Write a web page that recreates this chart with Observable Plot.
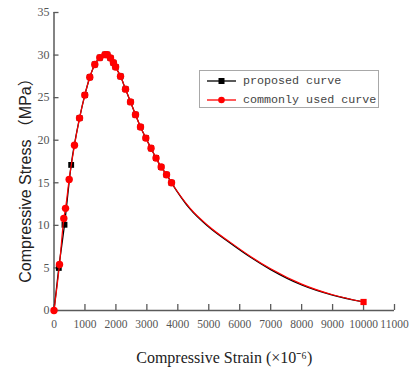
<!DOCTYPE html>
<html><head><meta charset="utf-8">
<script src="https://cdn.jsdelivr.net/npm/d3@7"></script>
<script src="https://cdn.jsdelivr.net/npm/@observablehq/plot@0.6"></script>
<style>
body{margin:0;background:#fff;}
#wrap{position:relative;width:409px;height:371px;}
#legend{position:absolute;left:199px;top:70px;width:180px;height:38px;border:1.5px solid #a8a8a8;box-sizing:border-box;background:#fff;font-family:"Liberation Mono",monospace;font-size:11.7px;color:#444;}
.row{position:absolute;left:0;height:14px;line-height:14px;white-space:nowrap;}
.row svg{position:absolute;left:7px;top:2px;}
.row span{position:absolute;left:43px;top:0;}
</style>
</head><body>
<div id="wrap"><div id="chart"></div>
<div id="legend">
 <div class="row" style="top:3px"><svg width="30" height="10"><line x1="0" y1="5" x2="29" y2="5" stroke="#000" stroke-width="1.3"/><rect x="11.5" y="2" width="6" height="6" fill="#000"/></svg><span>proposed curve</span></div>
 <div class="row" style="top:21.5px"><svg width="30" height="10"><line x1="0" y1="5" x2="29" y2="5" stroke="#ff0000" stroke-width="1.3"/><circle cx="14.5" cy="5" r="3.3" fill="#ff0000"/></svg><span>commonly used curve</span></div>
</div></div>
<script>
// commonly used curve: marked points
const redX = [0,178,317,372,490,662,825,995,1157,1318,1480,1645,1720,1825,1920,1990,2149,2310,2472,2633,2795,2966,3135,3296,3463,3635,3796];
const redY = [0,5.4,10.8,12.0,15.4,19.4,22.6,25.3,27.4,28.9,29.7,30.05,30.05,29.65,29.1,28.6,27.5,26.0,24.5,23.0,21.55,20.25,19.05,17.9,16.85,15.95,15.0];
// descending tail (line only, last point marked)
const tailX = [4400,5000,5700,6350,7000,8000,9000,10000];
const redTailY = [12.0,9.9,8.0,6.35,4.9,3.1,1.85,1.0];
// proposed curve
const blackX = [0,155,339,555,825,995,1157,1318,1480,1645,1720,1825,1920,1990,2149,2310,2472,2633,2795,2966,3135,3296,3463,3635,3796];
const blackY = [0,5.0,10.07,17.1,22.6,25.3,27.4,28.9,29.7,30.05,30.05,29.65,29.1,28.6,27.5,26.0,24.5,23.0,21.55,20.25,19.05,17.9,16.85,15.95,15.0];
const blackTailY = [11.9,9.8,7.9,6.25,4.8,3.0,1.8,1.0];
const xTicks = [0,1000,2000,3000,4000,5000,6000,7000,8000,9000,10000,11000];
const yTicks = [0,5,10,15,20,25,30,35];
const xLabel = "Compressive Strain (×10⁻⁶)";
const yLabel = "Compressive Stress （MPa）";

const redMarked = redX.map((x,i)=>({x, y:redY[i]}));
const redLine = redMarked.concat(tailX.map((x,i)=>({x, y:redTailY[i]})));
const redEnd = [{x: tailX[tailX.length-1], y: redTailY[redTailY.length-1]}];
const blackPts = blackX.map((x,i)=>({x, y:blackY[i]}));
const blackLine = blackPts.concat(tailX.map((x,i)=>({x, y:blackTailY[i]})));

const axisColor = "#5a5a5a";
const chart = Plot.plot({
  width: 409, height: 371,
  marginLeft: 53.5, marginRight: 15, marginTop: 12, marginBottom: 61,
  style: {fontFamily: "Liberation Serif, serif", background: "#fff"},
  x: {domain: [0, 11000]},
  y: {domain: [0, 35]},
  marks: [
    Plot.ruleX([0], {stroke: axisColor, strokeWidth: 1.5}),
    Plot.ruleY([0], {stroke: axisColor, strokeWidth: 1.5}),
    Plot.axisX(xTicks, {anchor: "bottom", tickSize: -6, tickPadding: 15, tickFormat: d => String(d), stroke: axisColor, strokeWidth: 1.3, fill: "#555", fontSize: 11.5, label: null}),
    Plot.axisY(yTicks, {anchor: "left", tickSize: -5, tickPadding: 9.5, tickFormat: d => String(d), stroke: axisColor, strokeWidth: 1.3, fill: "#555", fontSize: 12, label: null}),
    Plot.line(blackLine, {x: "x", y: "y", stroke: "#000", strokeWidth: 1.3, curve: "monotone-x"}),
    Plot.dot(blackPts.slice(1), {x: "x", y: "y", symbol: "square", r: 3.3, fill: "#000"}),
    Plot.line(redLine, {x: "x", y: "y", stroke: "#ff0000", strokeWidth: 1.2, curve: "monotone-x"}),
    Plot.dot(redMarked, {x: "x", y: "y", r: 3.7, fill: "#ff0000"}),
    Plot.dot(redEnd, {x: "x", y: "y", symbol: "square", r: 3.5, fill: "#ff0000"}),
    Plot.text([xLabel], {frameAnchor: "bottom", textAnchor: "middle", dy: 52, fontSize: 16, fill: "#222", fontFamily: "Liberation Serif, serif"}),
    Plot.text([yLabel], {frameAnchor: "left", textAnchor: "middle", dx: -28, dy: 15, rotate: -90, fontSize: 16, fill: "#222", fontFamily: "Liberation Sans, Noto Sans CJK SC, sans-serif"})
  ]
});
document.getElementById("chart").appendChild(chart);
</script>
</body></html>
